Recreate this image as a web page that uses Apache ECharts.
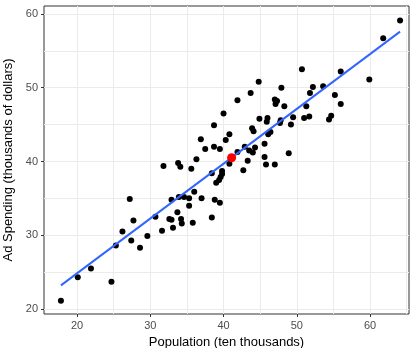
<!DOCTYPE html>
<html>
<head>
<meta charset="utf-8">
<script src="https://cdn.jsdelivr.net/npm/echarts@6/dist/echarts.min.js"></script>
<style>
  html, body { margin: 0; padding: 0; background: #fff; }
  #chart { width: 413px; height: 348px; }
</style>
</head>
<body>
<div id="chart"></div>
<script>
// population (ten thousands) and ad spending (thousands of dollars)
var pop = [17.8, 20.1, 21.9, 24.7, 25.3, 26.2, 27.2, 27.7, 27.4, 28.6,
           29.6, 30.7, 31.6, 31.8, 33.8, 34.1, 35.6, 36.3, 32.9, 33.9,
           34.6, 35.3, 36.0, 37.0, 35.3, 33.7, 32.6, 32.9, 34.2, 34.3,
           35.8, 33.1, 38.4, 38.8, 39.5, 38.4, 39.8, 39.8, 39.6, 39.4,
           39.0, 38.7, 37.5, 36.9, 38.7, 39.5, 40.3, 40.8, 40.8, 42.7,
           43.3, 42.9, 43.5, 44.0, 44.3, 41.9, 43.9, 44.1, 46.1, 46.4,
           45.6, 45.6, 45.8, 47.0, 48.9, 40.0, 41.9, 43.7, 44.8, 47.9,
           47.0, 47.3, 47.1, 48.3, 44.9, 46.0, 45.9, 47.8, 47.7, 49.5,
           49.2, 50.7, 51.0, 51.7, 51.3, 51.8, 52.2, 53.6, 55.2, 56.0,
           54.4, 54.7, 56.0, 59.9, 61.8, 64.1];
var ad = [21.1, 24.3, 25.5, 23.7, 28.6, 30.5, 34.9, 32.0, 29.3, 28.3,
          29.9, 32.5, 30.6, 39.4, 39.8, 39.3, 39.0, 40.3, 34.8, 35.2,
          35.2, 35.0, 35.9, 35.0, 34.0, 33.1, 32.2, 32.1, 32.2, 31.6,
          31.7, 31.0, 32.4, 34.8, 34.4, 38.4, 38.7, 38.3, 37.9, 37.5,
          37.1, 44.9, 41.7, 43.0, 42.0, 41.7, 42.9, 43.7, 39.7, 38.8,
          40.1, 42.0, 41.5, 41.2, 41.9, 41.3, 44.5, 44.1, 43.7, 44.0,
          42.4, 40.6, 39.6, 39.6, 41.1, 46.5, 48.3, 49.3, 50.8, 50.0,
          48.4, 48.2, 47.8, 47.5, 45.8, 45.9, 45.4, 45.6, 45.2, 46.0,
          45.0, 52.5, 45.9, 46.1, 47.5, 49.3, 50.1, 50.2, 49.0, 47.8,
          45.7, 46.2, 52.2, 51.1, 56.7, 59.1];
var meanPop = 41.1;
var meanAd = 40.5;
// fitted line end points
var fitPop = [17.8, 64.1];
var fitAd = [23.2, 57.6];

var xTicks = [20, 30, 40, 50, 60];
var yTicks = [20, 30, 40, 50, 60];
var xGrid = [20, 25, 30, 35, 40, 45, 50, 55, 60, 65];
var yGrid = [20, 25, 30, 35, 40, 45, 50, 55, 60];

var pts = pop.map(function (p, i) { return [p, ad[i]]; });
var fit = fitPop.map(function (p, i) { return [p, fitAd[i]]; });

var font = '"Liberation Sans", Arial, sans-serif';
var xMin = 15.49, xMax = 65.32, yMin = 19.32, yMax = 61.08;

var chart = echarts.init(document.getElementById('chart'));
var option = {
    animation: false,
    grid: {
        left: 44, right: 4, top: 6, bottom: 34,
        outerBoundsMode: 'none',
        show: true, borderColor: '#333', borderWidth: 1, backgroundColor: '#fff'
    },
    xAxis: [
        {
            type: 'value', min: xMin, max: xMax,
            axisLine: { show: false },
            axisTick: { show: false, customValues: xGrid },
            axisLabel: { customValues: xTicks, color: '#4d4d4d', fontSize: 11, margin: 6, fontFamily: font },
            splitLine: { show: true, lineStyle: { color: '#ebebeb', width: 1 } },
            name: 'Population (ten thousands)',
            nameLocation: 'middle', nameGap: 20,
            nameTextStyle: { color: '#000', fontSize: 13, fontFamily: font }
        },
        {
            type: 'value', min: xMin, max: xMax, position: 'bottom',
            axisLine: { show: false },
            axisTick: { show: true, length: 3, customValues: xTicks, lineStyle: { color: '#333' } },
            axisLabel: { show: false },
            splitLine: { show: false }
        }
    ],
    yAxis: [
        {
            type: 'value', min: yMin, max: yMax,
            axisLine: { show: false },
            axisTick: { show: false, customValues: yGrid },
            axisLabel: { customValues: yTicks, color: '#4d4d4d', fontSize: 11, margin: 6, fontFamily: font },
            splitLine: { show: true, lineStyle: { color: '#ebebeb', width: 1 } },
            name: 'Ad Spending (thousands of dollars)',
            nameLocation: 'middle', nameGap: 24,
            nameTextStyle: { color: '#000', fontSize: 13, fontFamily: font }
        },
        {
            type: 'value', min: yMin, max: yMax, position: 'left',
            axisLine: { show: false },
            axisTick: { show: true, length: 3, customValues: yTicks, lineStyle: { color: '#333' } },
            axisLabel: { show: false },
            splitLine: { show: false }
        }
    ],
    series: [
        {
            type: 'scatter', data: pts, symbolSize: 6,
            itemStyle: { color: '#000', opacity: 1 }, z: 2
        },
        {
            type: 'line', data: fit, symbol: 'none',
            lineStyle: { color: '#3366ff', width: 2 }, z: 3
        },
        {
            type: 'scatter', data: [[meanPop, meanAd]], symbolSize: 9,
            itemStyle: { color: '#ff0000', opacity: 1 }, z: 4
        }
    ]
};
chart.setOption(option);
window.addEventListener('resize', function () { chart.resize(); });
</script>
</body>
</html>
